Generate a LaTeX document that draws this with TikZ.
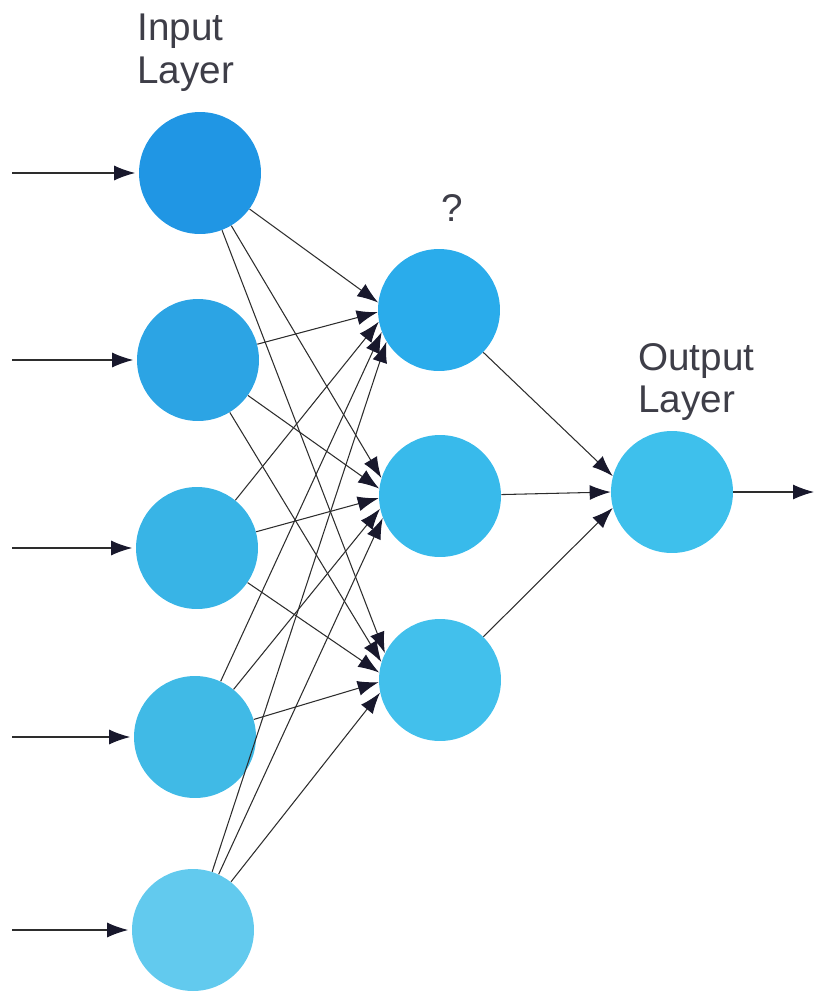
\documentclass[tikz,border=0pt]{standalone}
\usepackage{fontspec}
\setmainfont{Liberation Sans}
\usepackage{tikz}
\usetikzlibrary{arrows.meta,calc}
\definecolor{inA}{RGB}{32,150,228}
\definecolor{inB}{RGB}{44,164,228}
\definecolor{inC}{RGB}{56,180,230}
\definecolor{inD}{RGB}{64,186,230}
\definecolor{inE}{RGB}{98,202,238}
\definecolor{hidA}{RGB}{42,172,235}
\definecolor{hidB}{RGB}{56,186,235}
\definecolor{hidC}{RGB}{66,192,236}
\definecolor{outA}{RGB}{62,192,236}
\definecolor{labelgray}{RGB}{62,62,72}
\definecolor{tipnavy}{RGB}{24,24,44}
\tikzstyle{neuron}=[circle, minimum size=2.44cm, inner sep=0pt]
\tikzstyle{wire}=[line width=0.6pt, gray!35!black, -{Latex[length=0.42cm,width=0.3cm,tipnavy]}]
\tikzstyle{layername}=[font=\fontsize{22}{24}\selectfont, text=labelgray, align=left, inner sep=0pt]

\begin{document}
\begin{tikzpicture}[x=0.02cm, y=-0.02cm]
\useasboundingbox (0,0) rectangle (814,994);
%
% input layer
	\node[neuron, fill=inA] (i1) at (200,173) {};
	\node[neuron, fill=inB] (i2) at (198,360) {};
	\node[neuron, fill=inC] (i3) at (197,548) {};
	\node[neuron, fill=inD] (i4) at (195,737) {};
	\node[neuron, fill=inE] (i5) at (193,930) {};
% hidden layer
	\node[neuron, fill=hidA] (h1) at (439,310) {};
	\node[neuron, fill=hidB] (h2) at (440,496) {};
	\node[neuron, fill=hidC] (h3) at (440,680) {};
% output layer
	\node[neuron, fill=outA] (o1) at (672,492) {};
%
	\node[layername, anchor=north west] (inlabel) at (137,14) {Input\\Layer};
	\node[layername, anchor=south] (hidlabel) at (452,222) {?};
	\node[layername, anchor=north west] (outlabel) at (638,343) {Output\\Layer};
%
% incoming and outgoing signals
	\foreach \n in {1,...,5}{
		\coordinate (src\n) at (12,0 |- i\n);
		\draw[wire, shorten >=2pt] (src\n) -- (i\n);
	}
	\coordinate (sink) at (814,0 |- o1);
	\draw[wire] (o1) -- (sink);
%
% input to hidden
	\foreach \n/\yi in {1/173,2/360,3/548,4/737,5/930}{
		\foreach \m/\yh in {1/310,2/496,3/680}{
			\pgfmathsetmacro\ang{180+0.05*(\yi-\yh)}
			\draw[wire] (i\n) -- (h\m.\ang);
		}
	}
%
% hidden to output
	\draw[wire] (h1) -- (o1.165);
	\draw[wire] (h2) -- (o1.180);
	\draw[wire] (h3) -- (o1.195);
\end{tikzpicture}
\end{document}
